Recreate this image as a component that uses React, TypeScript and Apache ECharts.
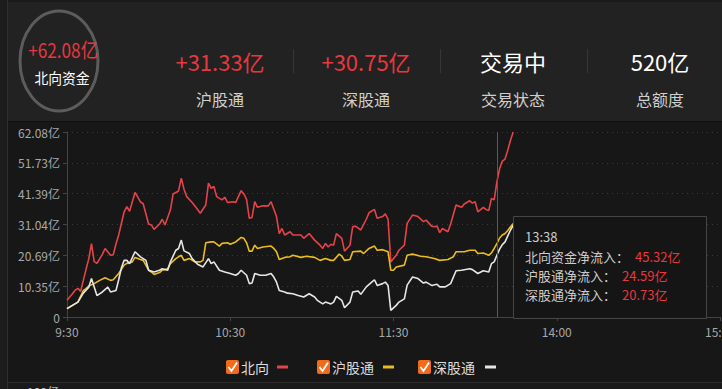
import React, { useEffect, useRef } from "react";
import * as echarts from "echarts";

// x = trading minutes since 9:30 (0..240, 11:30 = 120, 15:00 = 240)
const timeLabels = ["9:30", "10:30", "11:30", "14:00", "15:00"];

const northFlow: [number, number][] = [
  [0, 5.6], [2, 7.8], [3, 9.0], [4, 9.6], [5, 8.6], [7, 16.0], [8, 19.5], [9, 24.6], [10, 18.6], [11, 18.0],
  [13, 21.0], [14, 23.0], [16, 20.7], [17, 20.9], [18, 24.5], [19, 27.5], [21, 35.3], [22, 37.0], [23, 35.5],
  [25, 41.8], [26, 40.2], [27, 38.6], [28, 38.0], [30, 31.2], [31, 30.9], [32, 29.4], [34, 31.2], [35, 32.8],
  [36, 30.9], [38, 35.9], [39, 41.3], [41, 42.3], [42, 46.6], [43, 42.9], [44, 40.4], [46, 38.4], [48, 36.1],
  [49, 34.8], [51, 37.6], [52, 44.9], [53, 43.2], [54, 43.8], [55, 40.4], [57, 39.3], [58, 40.2], [59, 38.4],
  [61, 38.7], [62, 38.4], [64, 42.4], [65, 41.3], [66, 39.5], [67, 33.1], [68, 33.4], [69, 38.7], [70, 36.8],
  [72, 37.3], [74, 37.3], [75, 38.7], [77, 33.7], [78, 28.0], [79, 29.7], [80, 27.5], [82, 28.6], [83, 27.5],
  [86, 27.5], [87, 26.4], [89, 28.0], [91, 25.8], [93, 24.1], [94, 23.0], [95, 24.7], [96, 23.5], [97, 24.4],
  [98, 24.1], [99, 28.0], [101, 26.4], [102, 22.1], [104, 24.1], [105, 30.3], [106, 30.5], [108, 29.2],
  [110, 32.8], [111, 35.0], [113, 36.1], [114, 33.1], [116, 33.7], [117, 34.6], [118, 32.8], [119, 18.5],
  [121, 20.7], [122, 22.4], [124, 24.1], [125, 31.4], [127, 34.2], [129, 33.7], [131, 32.0], [132, 32.5],
  [134, 30.5], [135, 30.3], [136, 30.5], [137, 28.3], [138, 29.7], [140, 28.6], [141, 31.2], [143, 37.6],
  [145, 36.8], [146, 37.9], [148, 39.0], [149, 38.2], [150, 38.7], [151, 35.3], [153, 36.8], [154, 36.1],
  [155, 35.7], [156, 39.8], [157, 39.3], [158, 45.32], [159, 49.8], [160, 52.3], [161, 53.0], [162, 56.0],
  [163, 59.3], [164, 62.08],
];

const shFlow: [number, number][] = [
  [0, 2.8], [2, 3.9], [4, 5.0], [6, 8.9], [7, 9.5], [8, 10.4], [10, 11.2], [12, 12.3], [14, 13.2], [16, 12.3],
  [17, 12.5], [19, 14.6], [21, 17.4], [22, 18.0], [24, 18.5], [25, 20.0], [27, 19.3], [28, 19.0], [30, 15.7],
  [31, 15.1], [32, 14.3], [34, 14.9], [35, 15.7], [37, 16.2], [38, 17.9], [40, 19.6], [41, 20.2], [42, 20.7],
  [43, 19.0], [45, 19.6], [47, 18.5], [49, 18.5], [50, 19.0], [51, 24.9], [53, 25.2], [54, 25.2], [56, 23.8],
  [57, 24.7], [59, 24.9], [60, 24.4], [62, 25.2], [64, 26.7], [65, 26.4], [66, 24.9], [67, 22.1], [68, 22.1],
  [69, 24.1], [70, 23.0], [72, 23.5], [75, 23.8], [76, 23.0], [77, 21.9], [78, 19.3], [80, 20.0], [82, 20.2],
  [83, 20.7], [86, 20.0], [88, 20.4], [91, 20.0], [93, 19.0], [95, 19.6], [97, 19.0], [98, 19.0], [100, 21.1],
  [101, 20.4], [102, 19.0], [104, 19.3], [105, 21.9], [108, 22.1], [109, 21.3], [111, 23.0], [113, 23.8],
  [114, 22.4], [116, 22.6], [118, 21.9], [119, 15.7], [120, 15.7], [121, 16.8], [124, 17.4], [125, 20.7],
  [127, 21.1], [130, 20.4], [132, 20.2], [135, 19.6], [137, 19.0], [140, 19.3], [142, 20.2], [143, 21.9],
  [146, 21.9], [148, 22.4], [150, 22.4], [151, 21.3], [153, 21.5], [155, 20.7], [156, 21.5], [157, 23.0],
  [158, 24.59], [159, 26.5], [160, 27.5], [161, 28.0], [162, 29.0], [163, 30.3], [164, 31.33],
];

const szFlow: [number, number][] = [
  [0, 2.8], [2, 3.9], [4, 5.0], [6, 8.0], [8, 10.0], [9, 12.9], [11, 7.2], [13, 8.4], [15, 10.0], [16, 8.4],
  [18, 8.9], [19, 12.5], [20, 16.5], [21, 19.0], [22, 19.0], [23, 17.9], [25, 21.9], [27, 20.2], [29, 19.0],
  [30, 15.7], [32, 15.1], [34, 15.7], [35, 16.2], [37, 15.7], [38, 18.5], [40, 22.4], [41, 23.0], [42, 25.8],
  [43, 22.2], [45, 21.3], [46, 19.6], [48, 17.7], [50, 16.8], [52, 19.6], [53, 17.9], [54, 18.5], [56, 15.7],
  [58, 15.1], [60, 14.6], [62, 14.0], [63, 14.6], [64, 15.7], [66, 14.0], [67, 11.2], [68, 11.4], [69, 14.6],
  [71, 14.0], [73, 14.0], [75, 14.6], [76, 13.4], [77, 11.7], [78, 8.9], [80, 8.4], [81, 8.0], [83, 7.8],
  [85, 7.2], [87, 6.7], [89, 7.8], [91, 6.7], [92, 5.6], [94, 4.4], [95, 5.0], [97, 4.4], [98, 5.0], [99, 6.9],
  [101, 5.6], [102, 3.1], [104, 5.0], [105, 8.4], [107, 8.7], [108, 7.6], [110, 10.1], [112, 11.7], [113, 12.5],
  [114, 10.6], [116, 11.2], [117, 11.7], [118, 10.6], [119, 2.2], [121, 3.9], [122, 5.0], [124, 6.1],
  [125, 10.7], [127, 13.4], [129, 12.9], [131, 11.4], [132, 11.7], [134, 10.6], [136, 11.0], [137, 10.1],
  [139, 10.1], [141, 11.2], [143, 15.5], [145, 15.7], [148, 16.2], [149, 15.9], [151, 14.6], [153, 15.5],
  [155, 15.1], [156, 17.9], [157, 18.5], [158, 20.73], [159, 22.8], [160, 24.3], [161, 25.2], [162, 27.2],
  [163, 29.2], [164, 30.75],
];

const yMax = 62.08;
const ySteps = 6;

const headerValues = ["+62.08亿", "+31.33亿", "+30.75亿", "交易中", "520亿"];
const headerNames = ["北向资金", "沪股通", "深股通", "交易状态", "总额度"];

const legendNames = ["北向", "沪股通", "深股通"];
const seriesColors = ["#e5434a", "#e9bd1c", "#e6e6e6"];

const tipMinute = 158;
const tipTime = "13:38";
const tipLabels = ["北向资金净流入：", "沪股通净流入：", "深股通净流入："];
const tipValues = ["45.32亿", "24.59亿", "20.73亿"];

const FONT = '"Noto Sans CJK SC", "Noto Sans", sans-serif';
const RED = "#e8373e";

export default function App() {
  const ref = useRef<HTMLDivElement>(null);

  useEffect(() => {
    document.body.style.margin = "0";
    document.body.style.background = "#171717";
    if (!ref.current) return;
    const chart = echarts.init(ref.current, undefined, { renderer: "svg" });

    const graphics: any[] = [];
    // frame / backgrounds
    graphics.push({ type: "rect", z: -10, silent: true, shape: { x: 0, y: 0, width: 722, height: 389 }, style: { fill: "#171717" } });
    graphics.push({ type: "rect", z: -9, silent: true, shape: { x: 0, y: 0, width: 722, height: 121 }, style: { fill: "#222222" } });
    graphics.push({ type: "rect", z: -9, silent: true, shape: { x: 0, y: 0, width: 722, height: 2 }, style: { fill: "#1a1a1a" } });
    graphics.push({ type: "line", z: -8, silent: true, shape: { x1: 0, y1: 121.5, x2: 722, y2: 121.5 }, style: { stroke: "#101010", lineWidth: 1 } });
    graphics.push({ type: "rect", z: -9, silent: true, shape: { x: 0, y: 382, width: 722, height: 7 }, style: { fill: "#1a1a1a" } });
    graphics.push({ type: "line", z: -8, silent: true, shape: { x1: 0, y1: 382.5, x2: 722, y2: 382.5 }, style: { stroke: "#2c2c2c", lineWidth: 1 } });
    graphics.push({ type: "rect", z: -8, silent: true, shape: { x: 0, y: 0, width: 7, height: 389 }, style: { fill: "#1c1c1c" } });
    graphics.push({ type: "line", z: -7, silent: true, shape: { x1: 7.5, y1: 0, x2: 7.5, y2: 389 }, style: { stroke: "#2e2e2e", lineWidth: 1 } });
    graphics.push({ type: "text", x: 27, y: 385, style: { text: "100亿", fill: "#bbbbbb", font: `12px ${FONT}`, textAlign: "left", textVerticalAlign: "top" } });

    // header
    graphics.push({ type: "ellipse", shape: { cx: 59, cy: 61, rx: 39, ry: 50 }, style: { fill: "none", stroke: "#5c5c5c", lineWidth: 3 } });
    graphics.push({ type: "text", x: 63, y: 49, scaleX: 0.86, style: { text: headerValues[0], fill: RED, font: `20px ${FONT}`, textAlign: "center", textVerticalAlign: "middle" } });
    graphics.push({ type: "text", x: 62, y: 77, scaleX: 0.92, style: { text: headerNames[0], fill: "#ffffff", font: `15px ${FONT}`, textAlign: "center", textVerticalAlign: "middle" } });
    const colX = [220, 366, 513, 660];
    for (let i = 1; i < 5; i++) {
      const cx = colX[i - 1];
      const isNum = i <= 2;
      graphics.push({ type: "text", x: cx, y: 61, style: { text: headerValues[i], fill: isNum ? RED : "#ffffff", font: `22px ${FONT}`, textAlign: "center", textVerticalAlign: "middle" } });
      graphics.push({ type: "text", x: cx, y: 99, style: { text: headerNames[i], fill: "#cfcfcf", font: `16px ${FONT}`, textAlign: "center", textVerticalAlign: "middle" } });
    }
    [293, 440, 587].forEach((sx) => {
      graphics.push({ type: "line", shape: { x1: sx + 0.5, y1: 49, x2: sx + 0.5, y2: 73 }, style: { stroke: "#363636", lineWidth: 1 } });
    });

    // legend (checkbox + name + colored dash)
    const boxX = [226, 317, 418];
    const dashX = [277, 383, 485];
    legendNames.forEach((name, i) => {
      const bx = boxX[i];
      graphics.push({ type: "rect", shape: { x: bx, y: 360, width: 13, height: 14, r: 2 }, style: { fill: "#f26a1b" } });
      graphics.push({ type: "polyline", shape: { points: [[bx + 2.5, 367], [bx + 5.5, 371], [bx + 11, 362.5]] }, style: { stroke: "#ffffff", lineWidth: 1.8, fill: "none" } });
      graphics.push({ type: "text", x: bx + 15, y: 367, style: { text: name, fill: "#dddddd", font: `14px ${FONT}`, textAlign: "left", textVerticalAlign: "middle" } });
      graphics.push({ type: "line", shape: { x1: dashX[i], y1: 367, x2: dashX[i] + 11, y2: 367 }, style: { stroke: seriesColors[i], lineWidth: 3 } });
    });

    // tooltip box
    graphics.push({ type: "rect", z: 100, shape: { x: 513.5, y: 216.5, width: 193, height: 102 }, style: { fill: "rgba(22,22,22,0.92)", stroke: "#454545", lineWidth: 1 } });
    graphics.push({ type: "text", z: 101, x: 525, y: 236, style: { text: tipTime, fill: "#cccccc", font: `13px ${FONT}`, textAlign: "left", textVerticalAlign: "middle" } });
    const valX = [635, 622, 622];
    tipLabels.forEach((lab, i) => {
      const yy = 256 + i * 19;
      graphics.push({ type: "text", z: 101, x: 525, y: yy, style: { text: lab, fill: "#cccccc", font: `13px ${FONT}`, textAlign: "left", textVerticalAlign: "middle" } });
      graphics.push({ type: "text", z: 101, x: valX[i], y: yy, style: { text: tipValues[i], fill: RED, font: `13px ${FONT}`, textAlign: "left", textVerticalAlign: "middle" } });
    });

    const mkSeries = (name: string, data: [number, number][], color: string, extra: any = {}) => ({
      name,
      type: "line",
      data,
      showSymbol: false,
      symbol: "none",
      lineStyle: { color, width: 1.6 },
      itemStyle: { color },
      z: 3,
      ...extra,
    });

    chart.setOption({
      animation: false,
      backgroundColor: "#171717",
      textStyle: { fontFamily: FONT },
      grid: { left: 67, right: 2, top: 132, bottom: 72, containLabel: false, outerBoundsMode: "none" },
      xAxis: {
        type: "value",
        min: 0,
        max: 240,
        interval: 60,
        axisLine: { show: true, lineStyle: { color: "#444444" } },
        axisTick: { show: true, length: 4, lineStyle: { color: "#444444" } },
        axisLabel: {
          color: "#a8a8a8",
          fontSize: 12,
          margin: 8,
          hideOverlap: false,
          formatter: (v: number) => timeLabels[Math.round(v / 60)] ?? "",
        },
        splitLine: { show: false },
      },
      yAxis: {
        type: "value",
        min: 0,
        max: yMax,
        interval: yMax / ySteps,
        axisLine: { show: true, lineStyle: { color: "#444444" } },
        axisTick: { show: true, length: 4, lineStyle: { color: "#444444" } },
        axisLabel: {
          color: "#a8a8a8",
          fontSize: 12,
          margin: 7,
          formatter: (v: number) => (v < 0.001 ? "0" : v.toFixed(2) + "亿"),
        },
        splitLine: { show: true, lineStyle: { color: "#3a3a3a", type: [1, 4] } },
      },
      series: [
        mkSeries(legendNames[0], northFlow, seriesColors[0], {
          markLine: {
            silent: true,
            symbol: "none",
            label: { show: false },
            lineStyle: { color: "#5a5a5a", type: "solid", width: 1 },
            data: [{ xAxis: tipMinute }],
          },
        }),
        mkSeries(legendNames[1], shFlow, seriesColors[1]),
        mkSeries(legendNames[2], szFlow, seriesColors[2]),
      ],
      graphic: { elements: graphics },
    });

    return () => chart.dispose();
  }, []);

  return <div ref={ref} style={{ width: 722, height: 389 }} />;
}
